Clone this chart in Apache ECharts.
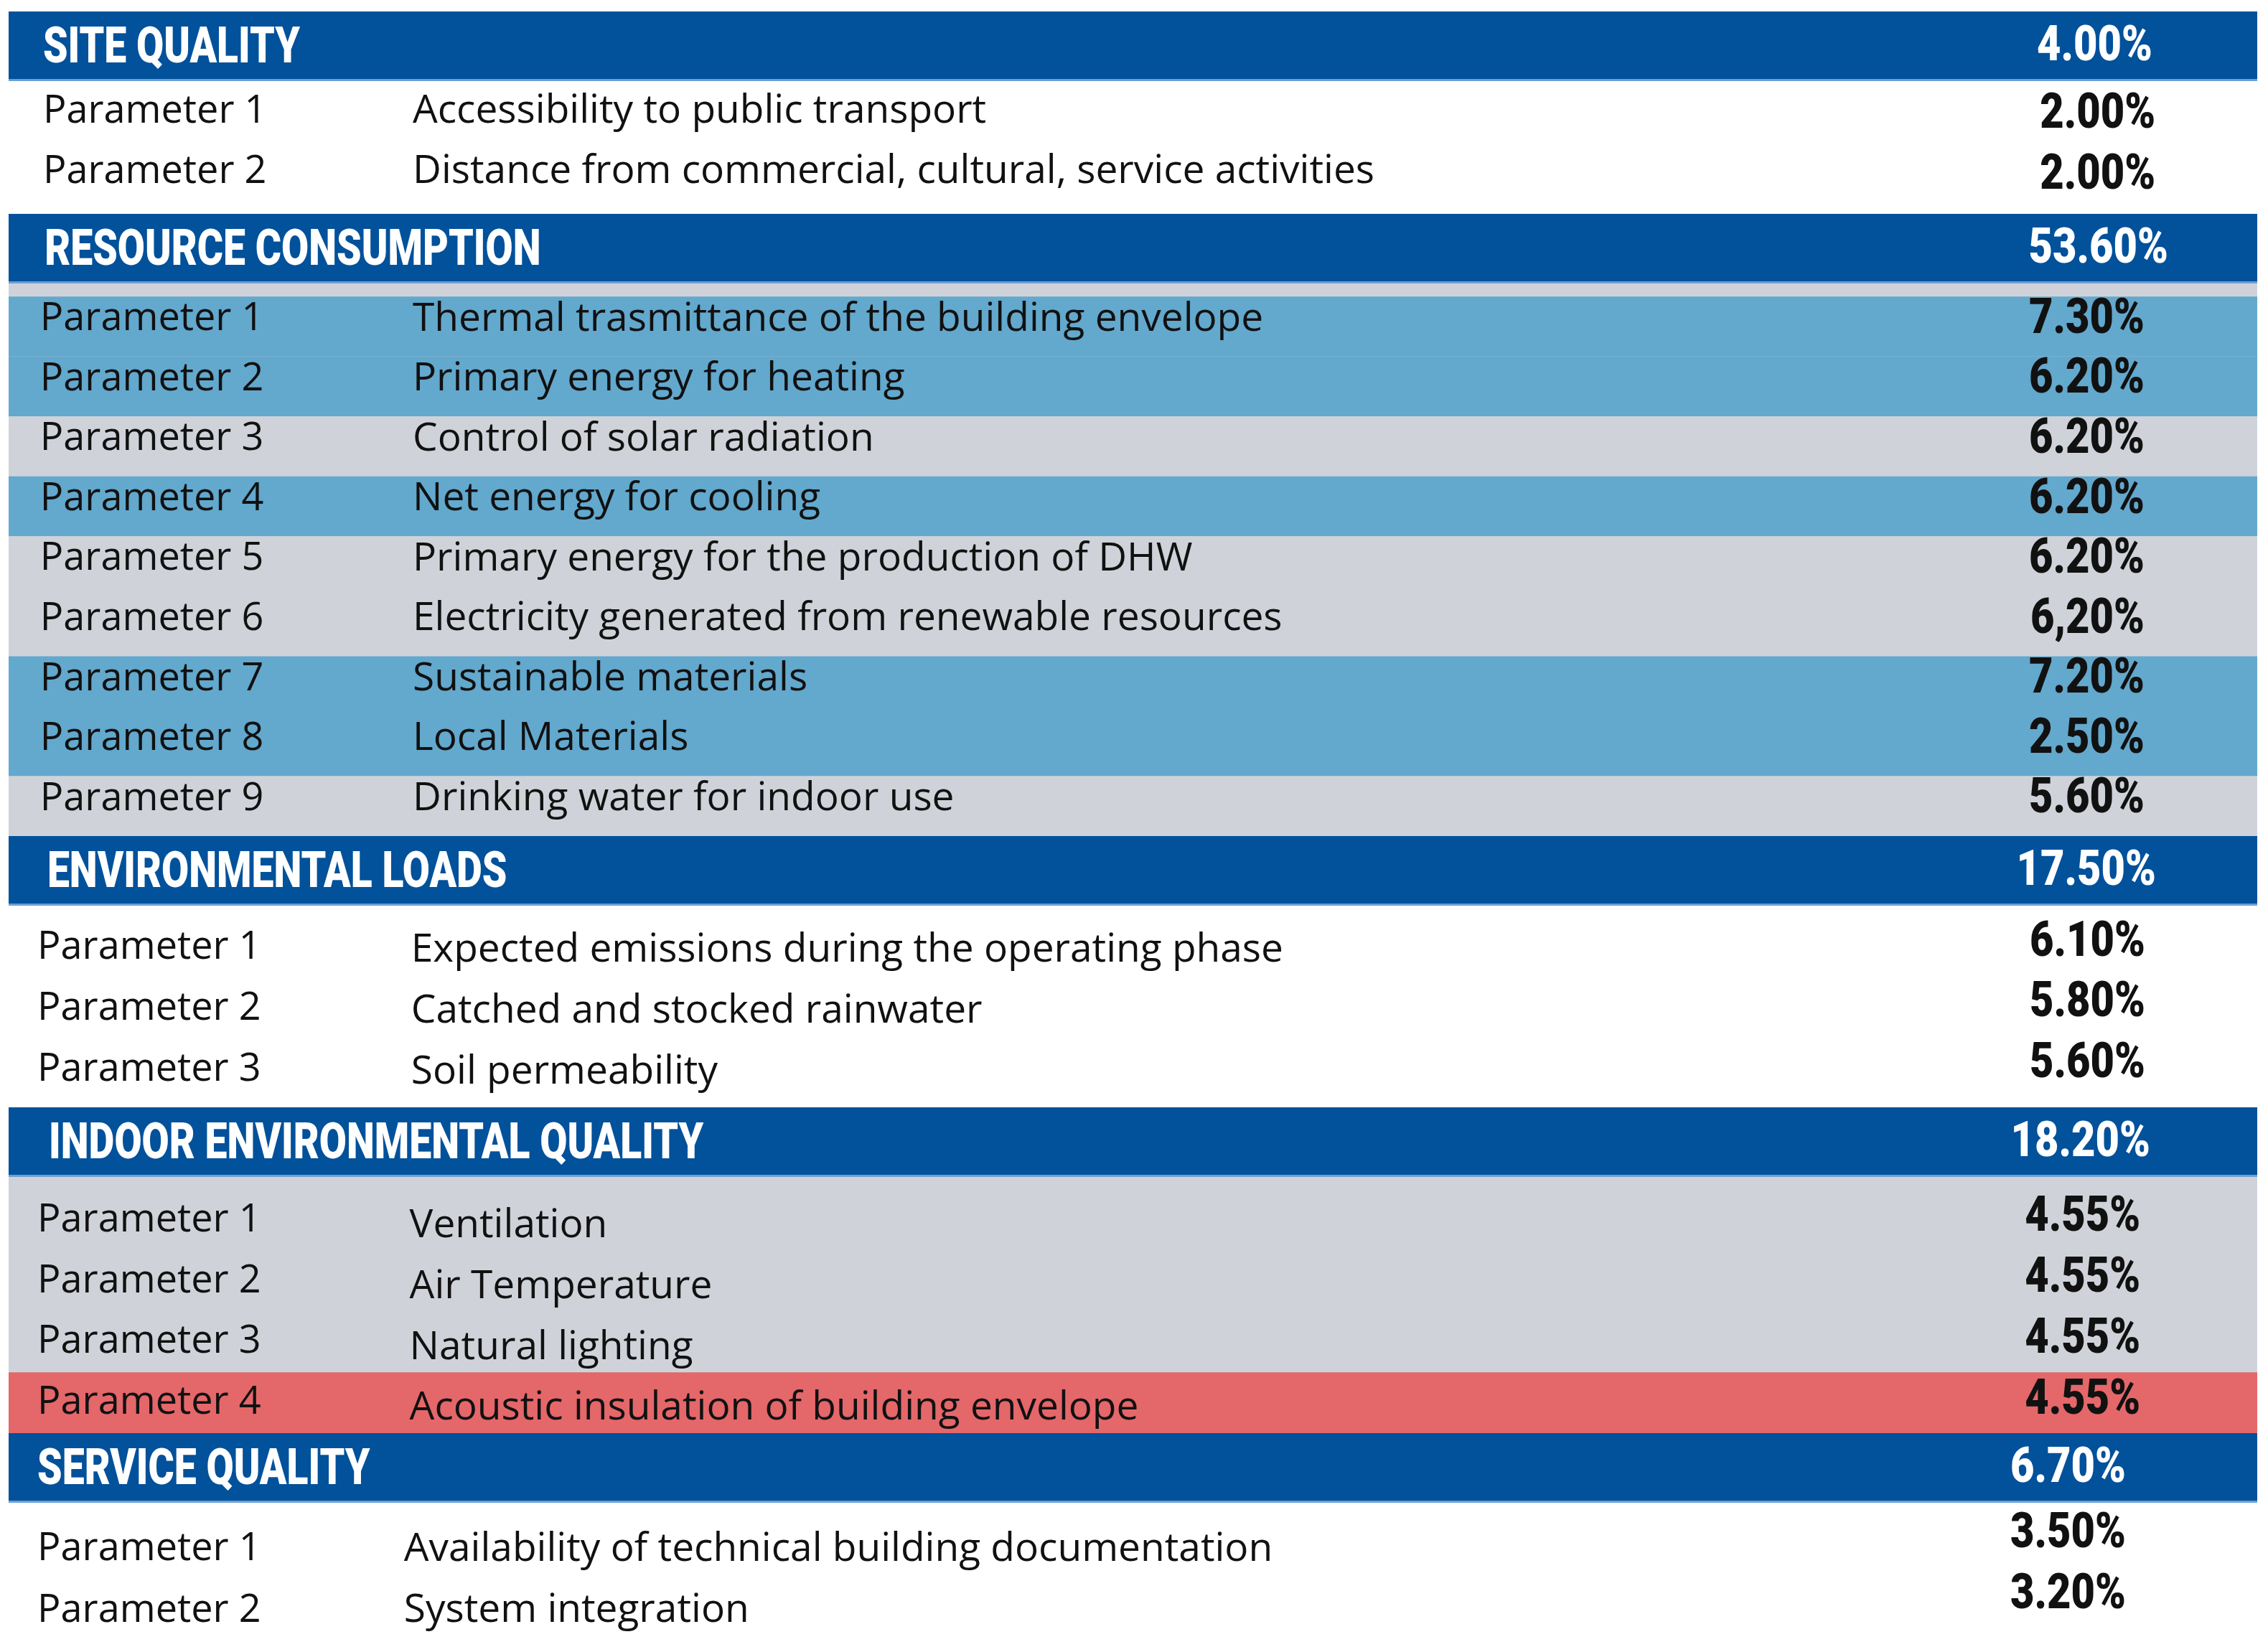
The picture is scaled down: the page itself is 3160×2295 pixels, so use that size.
<!DOCTYPE html>
<html>
<head>
<meta charset="utf-8">
<script src="https://cdn.jsdelivr.net/npm/echarts@6/dist/echarts.min.js"></script>
<style>
  html, body { margin: 0; padding: 0; background: #ffffff; }
  #chart { width: 3160px; height: 2295px; }
</style>
</head>
<body>
<div id="chart"></div>
<script>
// ---------------- DATA ----------------
const sectionNames = ['SITE QUALITY', 'RESOURCE CONSUMPTION', 'ENVIRONMENTAL LOADS', 'INDOOR ENVIRONMENTAL QUALITY', 'SERVICE QUALITY'];
const sectionWeights = ['4.00%', '53.60%', '17.50%', '18.20%', '6.70%'];

const siteLabels = ['Parameter 1', 'Parameter 2'];
const siteDescriptions = ['Accessibility to public transport', 'Distance from commercial, cultural, service activities'];
const siteWeights = ['2.00%', '2.00%'];

const resourceLabels = ['Parameter 1', 'Parameter 2', 'Parameter 3', 'Parameter 4', 'Parameter 5', 'Parameter 6', 'Parameter 7', 'Parameter 8', 'Parameter 9'];
const resourceDescriptions = [
  'Thermal trasmittance of the building envelope',
  'Primary energy for heating',
  'Control of solar radiation',
  'Net energy for cooling',
  'Primary energy for the production of DHW',
  'Electricity generated from renewable resources',
  'Sustainable materials',
  'Local Materials',
  'Drinking water for indoor use'
];
const resourceWeights = ['7.30%', '6.20%', '6.20%', '6.20%', '6.20%', '6,20%', '7.20%', '2.50%', '5.60%'];

const envLabels = ['Parameter 1', 'Parameter 2', 'Parameter 3'];
const envDescriptions = ['Expected emissions during the operating phase', 'Catched and stocked rainwater', 'Soil permeability'];
const envWeights = ['6.10%', '5.80%', '5.60%'];

const indoorLabels = ['Parameter 1', 'Parameter 2', 'Parameter 3', 'Parameter 4'];
const indoorDescriptions = ['Ventilation', 'Air Temperature', 'Natural lighting', 'Acoustic insulation of building envelope'];
const indoorWeights = ['4.55%', '4.55%', '4.55%', '4.55%'];

const serviceLabels = ['Parameter 1', 'Parameter 2'];
const serviceDescriptions = ['Availability of technical building documentation', 'System integration'];
const serviceWeights = ['3.50%', '3.20%'];

// ---------------- STYLE / LAYOUT ----------------
const COLORS = {
  header: '#02519b',
  headerLine: '#6c9fd3',
  blue: '#63a8cd',
  gray: '#cfd3d9',
  red: '#e4676a',
  text: '#111111',
  white: '#ffffff'
};
// row shading per section (style only)
const rowShades = [
  [null, null],
  ['blue', 'blue', 'gray', 'blue', 'gray', 'gray', 'blue', 'blue', 'gray'],
  [null, null, null],
  ['gray', 'gray', 'gray', 'red'],
  [null, null]
];
const bodyBackground = [null, COLORS.gray, null, COLORS.gray, null];

const GRID_LEFT = 12, GRID_RIGHT = 15;
const HEADER_H = 97;
const headerTops = [16, 298, 1165, 1543, 1997];
const bodyBottoms = [298, 1165, 1543, 1997, 2287];
const padTop = [0, 0.217, 0.19, 0.214, 0.26];
const padBottom = [0.19, 0, 0.12, 0, 0];
const labelX = [1.53, 1.40, 1.28, 1.28, 1.28];
const titleX = [1.53, 1.60, 1.72, 1.79, 1.28];
const descX = [17.97, 17.97, 17.9, 17.83, 17.58];
const valueRight = [95.47, 94.99, 95.02, 94.80, 94.16];
const headerValueRight = [95.34, 96.04, 95.50, 95.24, 94.16];
const textDy = [0, -10, 0, 0, 0];
const descDy = [0, 0, 4, 8, 0];
const valueDy = [4, 0, -8, -4, -22];

const sections = [
  { labels: siteLabels, desc: siteDescriptions, weights: siteWeights },
  { labels: resourceLabels, desc: resourceDescriptions, weights: resourceWeights },
  { labels: envLabels, desc: envDescriptions, weights: envWeights },
  { labels: indoorLabels, desc: indoorDescriptions, weights: indoorWeights },
  { labels: serviceLabels, desc: serviceDescriptions, weights: serviceWeights }
];

function textEl(x, y, text, opt) {
  return {
    type: 'text', x: x, y: y, scaleX: opt.scaleX || 1,
    style: {
      x: 0, y: 0, text: text,
      fill: opt.fill || COLORS.text,
      fontFamily: opt.family || '"Open Sans", sans-serif',
      fontSize: opt.size || 54,
      fontWeight: opt.weight || 'normal',
      align: opt.align || 'left',
      verticalAlign: 'middle'
    }
  };
}

const grids = [], xAxes = [], yAxes = [], series = [];
sections.forEach(function (sec, s) {
  // header grid
  const hg = grids.length;
  grids.push({ left: GRID_LEFT, right: GRID_RIGHT, top: headerTops[s], height: HEADER_H, containLabel: false });
  xAxes.push({ type: 'value', gridIndex: hg, min: 0, max: 100, show: false });
  yAxes.push({ type: 'value', gridIndex: hg, min: 0, max: 1, inverse: true, show: false });
  series.push({
    type: 'custom', coordinateSystem: 'cartesian2d', xAxisIndex: hg, yAxisIndex: hg,
    silent: true, animation: false,
    data: [[0, 0]],
    renderItem: function (params, api) {
      const r = api.value(1);
      const a = api.coord([0, r]);
      const b = api.coord([100, r + 1]);
      const t = api.coord([titleX[s], r + 0.5]);
      const v = api.coord([headerValueRight[s], r + 0.5]);
      return {
        type: 'group',
        children: [
          { type: 'rect', shape: { x: a[0], y: a[1], width: b[0] - a[0], height: b[1] - a[1] }, style: { fill: COLORS.header } },
          { type: 'rect', shape: { x: a[0], y: b[1] - 3, width: b[0] - a[0], height: 3 }, style: { fill: COLORS.headerLine } },
          textEl(t[0], t[1] + 5, sectionNames[s], { fill: COLORS.white, family: 'Roboto, sans-serif', weight: 900, size: 70, scaleX: 0.79 }),
          textEl(v[0], v[1] + 2, sectionWeights[s], { fill: COLORS.white, family: 'Roboto, sans-serif', weight: 900, size: 68, scaleX: 0.85, align: 'right' })
        ]
      };
    }
  });

  // body grid
  const bg = grids.length;
  const bodyTop = headerTops[s] + HEADER_H;
  const gridOpt = { left: GRID_LEFT, right: GRID_RIGHT, top: bodyTop, height: bodyBottoms[s] - bodyTop, containLabel: false };
  if (bodyBackground[s]) { gridOpt.show = true; gridOpt.backgroundColor = bodyBackground[s]; gridOpt.borderWidth = 0; }
  grids.push(gridOpt);
  const n = sec.labels.length;
  xAxes.push({ type: 'value', gridIndex: bg, min: 0, max: 100, show: false });
  yAxes.push({ type: 'value', gridIndex: bg, min: -padTop[s], max: n + padBottom[s], inverse: true, show: false });
  series.push({
    type: 'custom', coordinateSystem: 'cartesian2d', xAxisIndex: bg, yAxisIndex: bg,
    silent: true, animation: false,
    data: sec.labels.map(function (_, i) { return [0, i]; }),
    renderItem: function (params, api) {
      const i = api.value(1);
      const a = api.coord([0, i]);
      const b = api.coord([100, i + 1]);
      const children = [];
      const shade = rowShades[s][i];
      if (shade) {
        children.push({ type: 'rect', shape: { x: a[0], y: a[1], width: b[0] - a[0], height: b[1] - a[1] }, style: { fill: COLORS[shade] } });
      }
      const l = api.coord([labelX[s], i + 0.5]);
      const d = api.coord([descX[s], i + 0.5]);
      const v = api.coord([valueRight[s], i + 0.5]);
      children.push(textEl(l[0], l[1] + textDy[s], sec.labels[i], { size: 54 }));
      children.push(textEl(d[0], d[1] + textDy[s] + descDy[s], sec.desc[i], { size: 55 }));
      children.push(textEl(v[0], v[1] + textDy[s] + valueDy[s] + 2, sec.weights[i], { family: 'Roboto, sans-serif', weight: 900, size: 68, scaleX: 0.85, align: 'right' }));
      return { type: 'group', children: children };
    }
  });
});

const chart = echarts.init(document.getElementById('chart'), null, { renderer: 'canvas' });
chart.setOption({
  backgroundColor: '#ffffff',
  animation: false,
  grid: grids,
  xAxis: xAxes,
  yAxis: yAxes,
  series: series
});
</script>
</body>
</html>
